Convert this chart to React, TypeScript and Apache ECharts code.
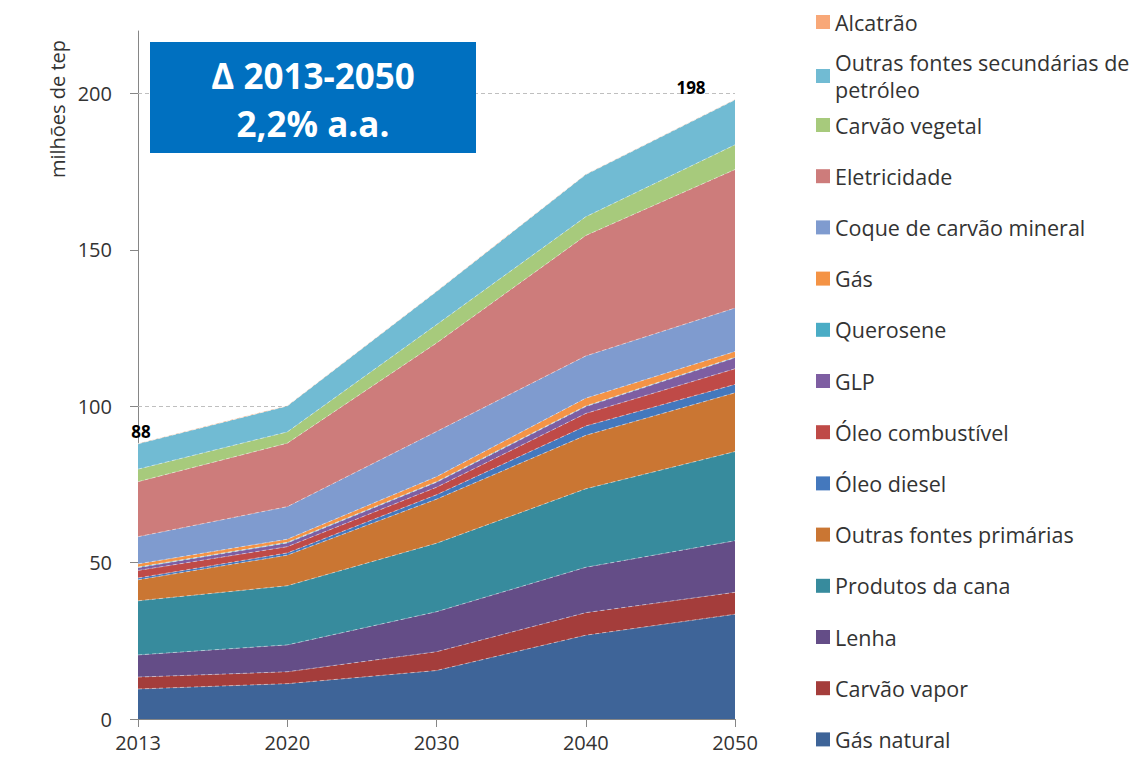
import React, { useEffect, useRef } from 'react';
import * as echarts from 'echarts';

const years = ['2013', '2020', '2030', '2040', '2050'];

const gasNatural = [9.6, 11.3, 15.5, 26.8, 33.5];
const carvaoVapor = [3.8, 3.8, 6.0, 7.2, 7.0];
const lenha = [7.1, 8.6, 12.8, 14.5, 16.5];
const produtosCana = [17.3, 18.9, 21.9, 25.1, 28.5];
const outrasPrimarias = [6.7, 9.8, 14.1, 17.1, 18.8];
const oleoDiesel = [0.6, 0.7, 1.4, 3.0, 2.7];
const oleoCombustivel = [2.4, 2.0, 2.4, 4.0, 5.0];
const glp = [0.9, 1.2, 1.6, 2.2, 3.5];
const querosene = [0.2, 0.2, 0.2, 0.2, 0.2];
const gas = [1.0, 1.0, 1.6, 2.5, 1.8];
const coque = [8.7, 10.4, 14.4, 13.5, 13.9];
const eletricidade = [17.6, 20.3, 28.3, 38.5, 44.3];
const carvaoVegetal = [4.0, 3.6, 5.9, 6.0, 7.9];
const outrasSecundarias = [8.1, 8.3, 10.6, 13.5, 14.4];
const alcatrao = [0.1, 0.1, 0.1, 0.1, 0.1];

const yTicks = [0, 50, 100, 150, 200];
const gridLines = [100, 200];

const layers = [
  { name: 'Gás natural', data: gasNatural, color: '#3E6498' },
  { name: 'Carvão vapor', data: carvaoVapor, color: '#A43D3B' },
  { name: 'Lenha', data: lenha, color: '#644D87' },
  { name: 'Produtos da cana', data: produtosCana, color: '#378B9D' },
  { name: 'Outras fontes primárias', data: outrasPrimarias, color: '#CA7633' },
  { name: 'Óleo diesel', data: oleoDiesel, color: '#4478BD' },
  { name: 'Óleo combustível', data: oleoCombustivel, color: '#BF4A47' },
  { name: 'GLP', data: glp, color: '#7E5EA2' },
  { name: 'Querosene', data: querosene, color: '#4AACC5' },
  { name: 'Gás', data: gas, color: '#F49345' },
  { name: 'Coque de carvão mineral', data: coque, color: '#7F9BCF' },
  { name: 'Eletricidade', data: eletricidade, color: '#CD7C7B' },
  { name: 'Carvão vegetal', data: carvaoVegetal, color: '#A7CA7C' },
  { name: 'Outras fontes secundárias de petróleo', data: outrasSecundarias, color: '#71BBD3' },
  { name: 'Alcatrão', data: alcatrao, color: '#F8A878' },
];

const legendBottomGroup = [
  'Carvão vegetal',
  'Eletricidade',
  'Coque de carvão mineral',
  'Gás',
  'Querosene',
  'GLP',
  'Óleo combustível',
  'Óleo diesel',
  'Outras fontes primárias',
  'Produtos da cana',
  'Lenha',
  'Carvão vapor',
  'Gás natural',
];

const totals = years.map((_, i) => layers.reduce((s, l) => s + l.data[i], 0));

const FONT = 'Open Sans';
const TEXT = '#333333';

export default function App() {
  const ref = useRef<HTMLDivElement>(null);

  useEffect(() => {
    if (!ref.current) return;
    const chart = echarts.init(ref.current, undefined, { renderer: 'svg' });
    const colorOf = (n: string) => layers.find((l) => l.name === n)!.color;
    const longName = 'Outras fontes secundárias de petróleo';

    const series: any[] = layers.map((l, idx) => {
      const isTop = idx === layers.length - 1;
      const s: any = {
        name: l.name,
        type: 'line',
        stack: 'total',
        data: isTop
          ? l.data.map((v, i) => ({
              value: v,
              label: {
                show: i === 0 || i === years.length - 1,
                position: 'top',
                distance: 3,
                offset: i === 0 ? [3, 0] : [-44, 0],
                formatter: () => String(Math.round(totals[i])),
                fontFamily: FONT,
                fontWeight: 'bold',
                fontSize: 17,
                color: '#000',
              },
            }))
          : l.data,
        symbol: isTop ? 'circle' : 'none',
        symbolSize: 0,
        showSymbol: isTop,
        itemStyle: { color: l.color },
        areaStyle: { color: l.color, opacity: 1 },
        lineStyle: { color: 'rgba(255,255,255,0.45)', width: 1, type: [4, 3] },
        emphasis: { disabled: true },
        silent: true,
      };
      if (idx === 0) {
        s.markLine = {
          silent: true,
          symbol: 'none',
          z: 1,
          label: { show: false },
          lineStyle: { color: '#BFBFBF', type: [4, 3], width: 1 },
          data: gridLines.map((v) => ({ yAxis: v })),
        };
      }
      return s;
    });

    const legendText = {
      fontFamily: FONT,
      fontSize: 21.5,
      color: TEXT,
      lineHeight: 27,
    };

    chart.setOption({
      animation: false,
      grid: { left: 138, right: 404, top: 31, bottom: 41, containLabel: false },
      xAxis: {
        type: 'category',
        data: years,
        boundaryGap: false,
        axisLine: { lineStyle: { color: '#868686', width: 1 } },
        axisTick: { show: true, length: 8, lineStyle: { color: '#868686' } },
        axisLabel: { fontFamily: FONT, fontSize: 20, color: TEXT, margin: 13 },
        splitLine: { show: false },
      },
      yAxis: {
        type: 'value',
        min: 0,
        max: 220,
        interval: 50,
        axisLine: { show: true, lineStyle: { color: '#868686', width: 1 } },
        axisTick: { show: true, length: 8, lineStyle: { color: '#868686' }, customValues: yTicks },
        axisLabel: { fontFamily: FONT, fontSize: 20, color: TEXT, margin: 26, customValues: yTicks },
        splitLine: { show: false },
      },
      legend: [
        {
          orient: 'vertical',
          left: 816,
          top: 8.5,
          padding: 0,
          itemGap: 0,
          itemWidth: 14,
          itemHeight: 14,
          icon: 'rect',
          selectedMode: false,
          textStyle: legendText,
          formatter: (n: string) => (n === longName ? 'Outras fontes secundárias de\npetróleo' : n),
          data: [
            { name: 'Alcatrão', itemStyle: { color: colorOf('Alcatrão') } },
            {
              name: longName,
              itemStyle: { color: colorOf(longName) },
              textStyle: { padding: [27, 0, 0, 0] },
            },
          ],
        },
        {
          orient: 'vertical',
          left: 816,
          top: 111.5,
          padding: 0,
          itemGap: 24.2,
          itemWidth: 14,
          itemHeight: 14,
          icon: 'rect',
          selectedMode: false,
          textStyle: legendText,
          data: legendBottomGroup.map((n) => ({ name: n, itemStyle: { color: colorOf(n) } })),
        },
      ],
      graphic: [
        {
          type: 'text',
          x: 57,
          y: 109,
          rotation: Math.PI / 2,
          style: {
            text: 'milhões de tep',
            fontFamily: FONT,
            fontSize: 20,
            fill: TEXT,
            align: 'center',
            verticalAlign: 'middle',
          },
        },
        {
          type: 'rect',
          z: 10,
          shape: { x: 150, y: 42, width: 326, height: 111 },
          style: { fill: '#0070C0' },
        },
        {
          type: 'text',
          z: 11,
          x: 313,
          y: 75,
          style: {
            text: 'Δ 2013-2050',
            fontFamily: FONT,
            fontWeight: 'bold',
            fontSize: 35,
            fill: '#FFFFFF',
            align: 'center',
            verticalAlign: 'middle',
          },
        },
        {
          type: 'text',
          z: 11,
          x: 313,
          y: 123,
          style: {
            text: '2,2% a.a.',
            fontFamily: FONT,
            fontWeight: 'bold',
            fontSize: 35,
            fill: '#FFFFFF',
            align: 'center',
            verticalAlign: 'middle',
          },
        },
      ],
      series,
    });

    return () => chart.dispose();
  }, []);

  return <div ref={ref} style={{ width: 1139, height: 760, position: 'absolute', left: 0, top: 0 }} />;
}
